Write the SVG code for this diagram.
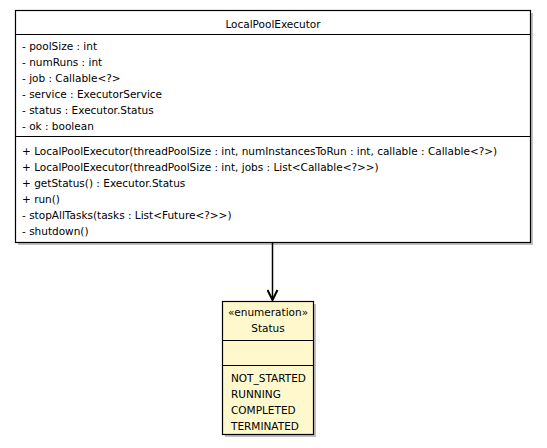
<svg xmlns="http://www.w3.org/2000/svg" width="547" height="448" viewBox="0 0 547 448">
  <style>
    text { font-family: "DejaVu Sans", "Liberation Sans", sans-serif; font-size: 10.5px; fill: #000; }
    .mid { text-anchor: middle; }
    .box { fill: #fff; stroke: #000; stroke-width: 1.2; }
    .enum { fill: #fff8cc; stroke: #000; stroke-width: 1.2; }
    .shadow { fill: #c0c0c0; }
    .sep { stroke: #000; stroke-width: 1.2; }
    .edge { stroke: #000; stroke-width: 1.5; fill: none; }
  </style>
  <defs>
    <marker id="open" viewBox="0 0 12 12" refX="11" refY="6" markerWidth="12" markerHeight="12" markerUnits="userSpaceOnUse" orient="auto">
      <path d="M1,1 L11,6 L1,11" fill="none" stroke="#000" stroke-width="2"/>
    </marker>
  </defs>

  <g id="LocalPoolExecutor">
    <rect class="shadow" x="18" y="13" width="515" height="232"/>
    <rect class="box" x="15.5" y="10.5" width="515" height="232"/>
    <line class="sep" x1="15.5" y1="34.5" x2="530.5" y2="34.5"/>
    <line class="sep" x1="15.5" y1="136.5" x2="530.5" y2="136.5"/>
    <text class="mid" x="273" y="28">LocalPoolExecutor</text>
    <text x="22" y="50">- poolSize : int</text>
    <text x="22" y="66">- numRuns : int</text>
    <text x="22" y="82">- job : Callable&lt;?&gt;</text>
    <text x="22" y="98">- service : ExecutorService</text>
    <text x="22" y="114">- status : Executor.Status</text>
    <text x="22" y="130">- ok : boolean</text>
    <text x="22" y="155">+ LocalPoolExecutor(threadPoolSize : int, numInstancesToRun : int, callable : Callable&lt;?&gt;)</text>
    <text x="22" y="171">+ LocalPoolExecutor(threadPoolSize : int, jobs : List&lt;Callable&lt;?&gt;&gt;)</text>
    <text x="22" y="187">+ getStatus() : Executor.Status</text>
    <text x="22" y="203">+ run()</text>
    <text x="22" y="219">- stopAllTasks(tasks : List&lt;Future&lt;?&gt;&gt;)</text>
    <text x="22" y="235">- shutdown()</text>
  </g>

  <g id="Status">
    <rect class="shadow" x="225" y="304" width="91" height="133"/>
    <rect class="enum" x="222.5" y="301.5" width="91" height="133"/>
    <line class="sep" x1="222.5" y1="340.5" x2="313.5" y2="340.5"/>
    <line class="sep" x1="222.5" y1="365.5" x2="313.5" y2="365.5"/>
    <text class="mid" x="268" y="316">«enumeration»</text>
    <text class="mid" x="268" y="332">Status</text>
    <text x="231" y="382">NOT_STARTED</text>
    <text x="231" y="398">RUNNING</text>
    <text x="231" y="414">COMPLETED</text>
    <text x="231" y="430">TERMINATED</text>
  </g>

  <g id="connectors">
    <line class="edge" x1="272.5" y1="243" x2="272.5" y2="300" marker-end="url(#open)"/>
  </g>
</svg>
